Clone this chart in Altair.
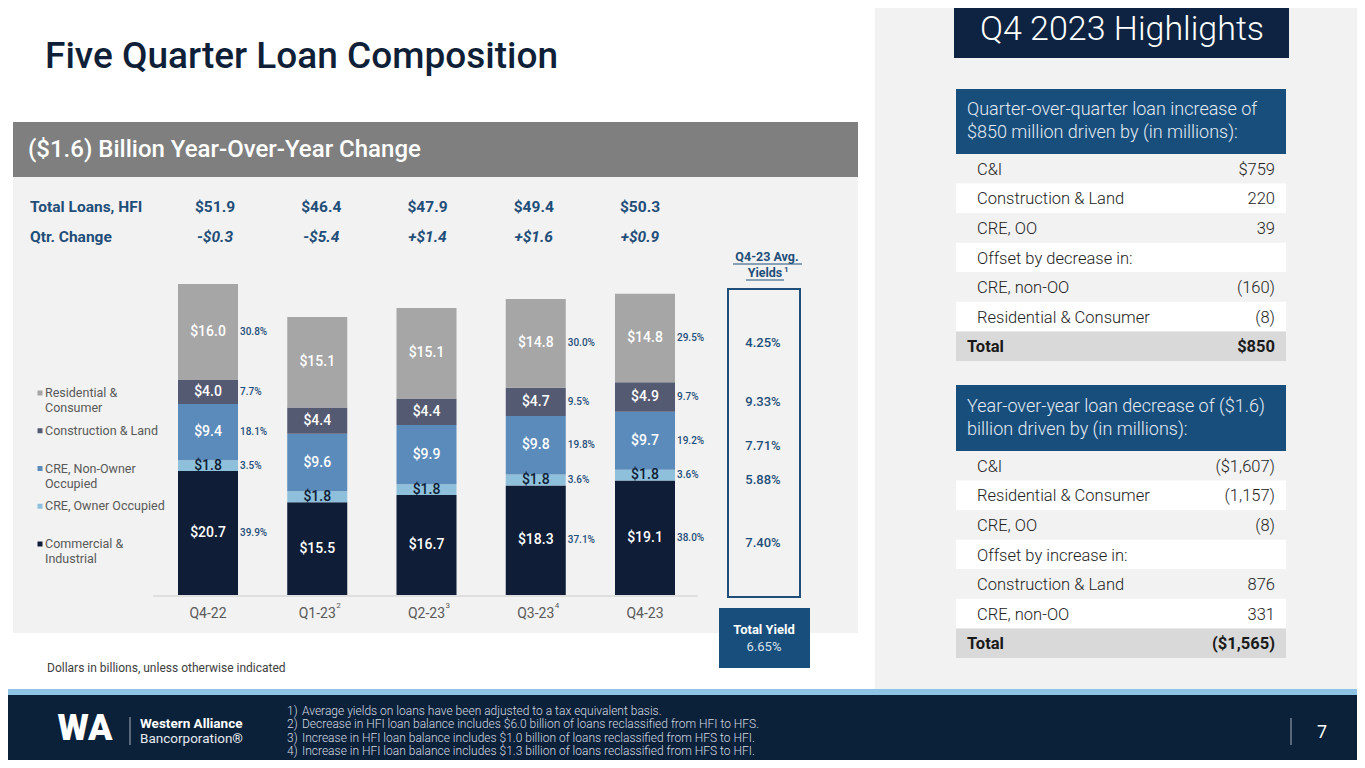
import altair as alt
import pandas as pd

W, H = 1349, 752
OFF = 8
FONT = "Roboto"


def px(v):
    return v - OFF


# ---------------- data ----------------
quarters = ["Q4-22", "Q1-23", "Q2-23", "Q3-23", "Q4-23"]
quarter_notes = ["", "2", "3", "4", ""]
total_loans = ["$51.9", "$46.4", "$47.9", "$49.4", "$50.3"]
qtr_change = ["-$0.3", "-$5.4", "+$1.4", "+$1.6", "+$0.9"]

categories = ["Commercial & Industrial", "CRE, Owner Occupied", "CRE, Non-Owner Occupied",
              "Construction & Land", "Residential & Consumer"]
legend_labels = ["Commercial &\nIndustrial", "CRE, Owner Occupied", "CRE, Non-Owner\nOccupied",
                 "Construction & Land", "Residential &\nConsumer"]
ci = [20.7, 15.5, 16.7, 18.3, 19.1]
cre_oo = [1.8, 1.8, 1.8, 1.8, 1.8]
cre_noo = [9.4, 9.6, 9.9, 9.8, 9.7]
construction = [4.0, 4.4, 4.4, 4.7, 4.9]
residential = [16.0, 15.1, 15.1, 14.8, 14.8]
series = [ci, cre_oo, cre_noo, construction, residential]

pct_q4_22 = [39.9, 3.5, 18.1, 7.7, 30.8]
pct_q3_23 = [37.1, 3.6, 19.8, 9.5, 30.0]
pct_q4_23 = [38.0, 3.6, 19.2, 9.7, 29.5]
pct_by_quarter = {"Q4-22": pct_q4_22, "Q3-23": pct_q3_23, "Q4-23": pct_q4_23}

yields_q4_23 = ["7.40%", "5.88%", "7.71%", "9.33%", "4.25%"]
total_yield = "6.65%"

qoq_labels = ["C&I", "Construction & Land", "CRE, OO", "Offset by decrease in:",
              "CRE, non-OO", "Residential & Consumer", "Total"]
qoq_values = ["$759", "220", "39", "", "(160)", "(8)", "$850"]
yoy_labels = ["C&I", "Residential & Consumer", "CRE, OO", "Offset by increase in:",
              "Construction & Land", "CRE, non-OO", "Total"]
yoy_values = ["($1,607)", "(1,157)", "(8)", "", "876", "331", "($1,565)"]

footnote_nums = ["1)", "2)", "3)", "4)"]
footnotes = [
    "Average yields on loans have been adjusted to a tax equivalent basis.",
    "Decrease in HFI loan balance includes $6.0 billion of loans reclassified from HFI to HFS.",
    "Increase in HFI loan balance includes $1.0 billion of loans reclassified from HFS to HFI.",
    "Increase in HFI loan balance includes $1.3 billion of loans reclassified from HFS to HFI.",
]

# ---------------- styles ----------------
CAT_COLORS = ["#0F1D36", "#8EC0DB", "#5B8BBB", "#545A72", "#A6A6A6"]
NAVY = "#0D2341"
BLUE = "#184E7B"
TEXT_BLUE = "#1F4E79"
PANEL = "#F2F2F2"

CS = alt.Scale(domain=categories, range=CAT_COLORS)
XS = alt.Scale(type="band", domain=quarters, range=[px(178), px(675)], paddingInner=0.4508, paddingOuter=0)
YS = alt.Scale(domain=[0, 52], range=[px(595), px(595 - 52 * 5.99)], nice=False, zero=True)

# ---------------- derived tables ----------------
rows = []
for qi, q in enumerate(quarters):
    base = 0.0
    for k, cat in enumerate(categories):
        v = series[k][qi]
        p = pct_by_quarter.get(q)
        rows.append(dict(
            quarter=q, category=cat, y0=base, y1=base + v, mid=base + v / 2,
            label=f"${v:.1f}",
            tcolor="#0F1D36" if cat == "CRE, Owner Occupied" else "#FFFFFF",
            pct=(f"{p[k]:.1f}%" if p else ""),
        ))
        base += v
bars = pd.DataFrame(rows)
yld = bars[bars.quarter == "Q4-23"].copy()
yld["yield"] = yields_q4_23

layers = []


def one():
    return pd.DataFrame({"t": [""]})


def T(x, y, t, size, color, weight=400, align="left", style="normal", baseline="middle", **kw):
    return alt.Chart(pd.DataFrame({"t": [t]})).mark_text(
        font=FONT, fontSize=size, color=color, fontWeight=weight, align=align,
        fontStyle=style, baseline=baseline, **kw
    ).encode(x=alt.value(px(x)), y=alt.value(px(y)), text="t:N")


def R(x1, x2, y1, y2, fill, **kw):
    return alt.Chart(one()).mark_rect(fill=fill, **kw).encode(
        x=alt.value(px(x1)), x2=alt.value(px(x2)), y=alt.value(px(y1)), y2=alt.value(px(y2))
    )


def RULE(x1, x2, y1, y2, color, width=1):
    return alt.Chart(one()).mark_rule(color=color, strokeWidth=width).encode(
        x=alt.value(px(x1)), x2=alt.value(px(x2)), y=alt.value(px(y1)), y2=alt.value(px(y2))
    )


# ---------------- backgrounds ----------------
layers += [
    R(875, 1365, 0, 689, PANEL),
    R(13, 858, 122, 633, PANEL),
    R(13, 858, 122, 177, "#7F7F7F"),
    R(954, 1289, 0, 58, NAVY),
    R(956, 1286, 89, 154, BLUE),
    R(956, 1286, 385, 451, BLUE),
    R(0, 1365, 689, 695, "#8DC4E3"),
    R(0, 1365, 695, 768, "#0A2139"),
    R(719, 810, 608, 668, BLUE),
    R(728, 800, 289, 597, PANEL, stroke=TEXT_BLUE, strokeWidth=2),
]

# ---------------- titles ----------------
layers += [
    T(45, 57, "Five Quarter Loan Composition", 37, "#0F1F38", weight=500),
    T(28, 150, "($1.6) Billion Year-Over-Year Change", 24, "#FFFFFF", weight=500),
    T(1122, 30, "Q4 2023 Highlights", 34, "#FFFFFF", weight=300, align="center"),
    T(967, 110, "Quarter-over-quarter loan increase of", 18, "#E3EBF4", weight=300),
    T(967, 133, "$850 million driven by (in millions):", 18, "#E3EBF4", weight=300),
    T(967, 407, "Year-over-year loan decrease of ($1.6)", 18, "#E3EBF4", weight=300),
    T(967, 430, "billion driven by (in millions):", 18, "#E3EBF4", weight=300),
    T(47, 668, "Dollars in billions, unless otherwise indicated", 12, "#404040"),
    T(30, 207, "Total Loans, HFI", 15.5, TEXT_BLUE, weight=700),
    T(30, 237, "Qtr. Change", 15.5, TEXT_BLUE, weight=700),
]

# ---------------- header rows (totals / change) ----------------
QS = alt.Scale(type="point", domain=quarters, range=[px(215), px(640)], padding=0)
hdr = pd.DataFrame({"quarter": quarters, "total": total_loans, "chg": qtr_change})
layers.append(alt.Chart(hdr).mark_text(font=FONT, fontSize=15.5, fontWeight=700, color=TEXT_BLUE).encode(
    x=alt.X("quarter:N", scale=QS, axis=None), y=alt.value(px(207)), text="total:N"))
layers.append(alt.Chart(hdr).mark_text(font=FONT, fontSize=15.5, fontWeight=700, fontStyle="italic",
                                       color=TEXT_BLUE).encode(
    x=alt.X("quarter:N", scale=QS, axis=None), y=alt.value(px(237)), text="chg:N"))

# ---------------- stacked bars ----------------
layers.append(RULE(153, 698, 596, 596, "#D9D9D9", 1.5))
layers.append(alt.Chart(bars).mark_bar().encode(
    x=alt.X("quarter:N", scale=XS, axis=None),
    y=alt.Y("y0:Q", scale=YS, axis=None), y2="y1:Q",
    color=alt.Color("category:N", scale=CS, legend=None),
))
layers.append(alt.Chart(bars).mark_text(font=FONT, fontSize=14, fontWeight=500).encode(
    x=alt.X("quarter:N", scale=XS, axis=None),
    y=alt.Y("mid:Q", scale=YS, axis=None),
    text="label:N",
    color=alt.Color("tcolor:N", scale=None),
))
layers.append(alt.Chart(bars[bars.pct != ""]).mark_text(
    font=FONT, fontSize=10, fontWeight=500, color=TEXT_BLUE, align="left", dx=32).encode(
    x=alt.X("quarter:N", scale=XS, axis=None),
    y=alt.Y("mid:Q", scale=YS, axis=None),
    text="pct:N",
))

# quarter labels
qdf = pd.DataFrame({"quarter": quarters, "note": quarter_notes})
layers.append(alt.Chart(qdf).mark_text(font=FONT, fontSize=14, color="#595959").encode(
    x=alt.X("quarter:N", scale=XS, axis=None), y=alt.value(px(614)), text="quarter:N"))
layers.append(alt.Chart(qdf[qdf.note != ""]).mark_text(font=FONT, fontSize=8, color="#595959",
                                                      align="left", dx=19).encode(
    x=alt.X("quarter:N", scale=XS, axis=None), y=alt.value(px(606)), text="note:N"))

# ---------------- yields ----------------
layers += [
    T(767, 257, "Q4-23 Avg.", 12.5, TEXT_BLUE, weight=700, align="center"),
    T(765, 273, "Yields", 12.5, TEXT_BLUE, weight=700, align="center"),
    T(784, 270, "1", 8, TEXT_BLUE, weight=700),
    RULE(733, 802, 264, 264, TEXT_BLUE, 1),
    RULE(746, 784, 280, 280, TEXT_BLUE, 1),
    T(764, 630, "Total Yield", 13, "#FFFFFF", weight=700, align="center"),
    T(764, 647, total_yield, 13, "#D6E2EE", weight=400, align="center"),
]
layers.append(alt.Chart(yld).mark_text(font=FONT, fontSize=13, fontWeight=500, color=TEXT_BLUE, dy=5).encode(
    x=alt.value(px(763)),
    y=alt.Y("mid:Q", scale=YS, axis=None),
    text="yield:N",
))

# ---------------- legend ----------------
LS = alt.Scale(type="point", domain=categories[::-1], range=[px(393), px(544)], padding=0)
leg = pd.DataFrame({"category": categories, "lab": legend_labels})
layers.append(alt.Chart(leg).mark_square(size=25, opacity=1).encode(
    x=alt.value(px(40)), y=alt.Y("category:N", scale=LS, axis=None),
    color=alt.Color("category:N", scale=CS, legend=None)))
layers.append(alt.Chart(leg).mark_text(font=FONT, fontSize=12.5, color="#595959", align="left",
                                       baseline="top", lineBreak="\n", lineHeight=15, dy=-6).encode(
    x=alt.value(px(45)), y=alt.Y("category:N", scale=LS, axis=None), text="lab:N"))

# ---------------- tables ----------------
ROW_FILLS = [PANEL, "#FFFFFF", PANEL, "#FFFFFF", PANEL, "#FFFFFF", "#D9D9D9"]


def table(labels, values, top, bottom):
    df = pd.DataFrame({"row": list(range(len(labels))), "lab": labels, "val": values, "fill": ROW_FILLS})
    df["bold"] = df["lab"] == "Total"
    ts = alt.Scale(type="band", domain=list(range(len(labels))), range=[px(top), px(bottom)],
                   paddingInner=0, paddingOuter=0)
    y = alt.Y("row:O", scale=ts, axis=None)
    out = [
        alt.Chart(df).mark_rect().encode(
            x=alt.value(px(956)), x2=alt.value(px(1286)), y=y,
            color=alt.Color("fill:N", scale=None)),
        alt.Chart(df[~df.bold]).mark_text(font=FONT, fontSize=16.5, fontWeight=300, color="#222222",
                                          align="left", dy=1).encode(
            x=alt.value(px(977)), y=y, text="lab:N"),
        alt.Chart(df[~df.bold]).mark_text(font=FONT, fontSize=16.5, fontWeight=300, color="#222222",
                                          align="right", dy=1).encode(
            x=alt.value(px(1275)), y=y, text="val:N"),
        alt.Chart(df[df.bold]).mark_text(font=FONT, fontSize=16.5, fontWeight=700, color="#1A1A1A",
                                         align="left", dy=1).encode(
            x=alt.value(px(967)), y=y, text="lab:N"),
        alt.Chart(df[df.bold]).mark_text(font=FONT, fontSize=16.5, fontWeight=700, color="#1A1A1A",
                                         align="right", dy=1).encode(
            x=alt.value(px(1275)), y=y, text="val:N"),
    ]
    return out


layers += table(qoq_labels, qoq_values, 154, 361)
layers += table(yoy_labels, yoy_values, 451, 658)

# ---------------- footer ----------------
layers += [
    T(85, 729, "WA", 36, "#FFFFFF", weight=900, align="center"),
    RULE(130, 130, 717, 745, "#A7B0BD", 1),
    T(140, 724, "Western Alliance", 13.5, "#FFFFFF", weight=700),
    T(140, 739, "Bancorporation®", 13.5, "#E6EAF0", weight=400),
    RULE(1291, 1291, 718, 745, "#A7B0BD", 1),
    T(1322, 733, "7", 18, "#FFFFFF", weight=400, align="center"),
]
FY = alt.Scale(type="point", domain=footnote_nums, range=[px(711), px(751)], padding=0)
fdf = pd.DataFrame({"n": footnote_nums, "t": footnotes})
layers.append(alt.Chart(fdf).mark_text(font=FONT, fontSize=12, color="#D5DAE2", align="left", fontWeight=300).encode(
    x=alt.value(px(287)), y=alt.Y("n:N", scale=FY, axis=None), text="n:N"))
layers.append(alt.Chart(fdf).mark_text(font=FONT, fontSize=12, color="#D5DAE2", align="left", fontWeight=300).encode(
    x=alt.value(px(302)), y=alt.Y("n:N", scale=FY, axis=None), text="t:N"))

chart = alt.layer(*layers).resolve_scale(
    x="independent", y="independent", color="independent"
).properties(
    width=W, height=H, padding=0, background="#FFFFFF",
    autosize=alt.AutoSizeParams(type="none"),
).configure_view(strokeWidth=0)

chart.save("out.html", embed_options={"renderer": "svg", "actions": False})
